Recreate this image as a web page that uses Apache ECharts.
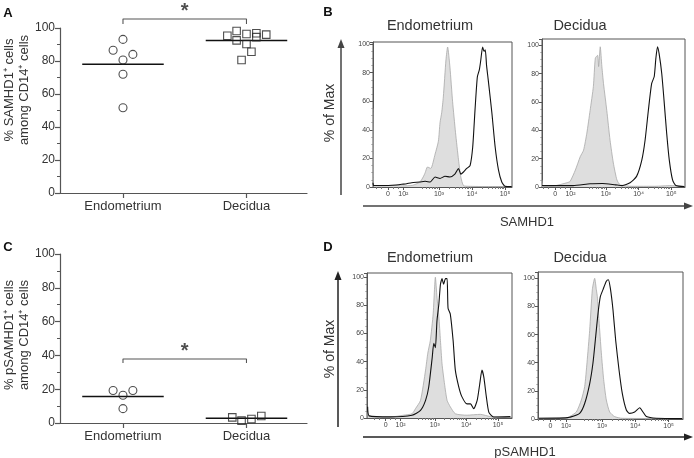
<!DOCTYPE html>
<html><head><meta charset="utf-8">
<script src="https://cdn.jsdelivr.net/npm/echarts@6/dist/echarts.min.js"></script>
<style>html,body{margin:0;padding:0;background:#fff}#c{width:694px;height:458px}</style>
</head><body><div id="c"></div>
<script>
const FONT = 'Liberation Sans, Arial, Helvetica, sans-serif';
const groups = ['Endometrium', 'Decidua'];

// ---- Panel A: % SAMHD1+ among CD14+ ----
const aEndoVals   = [93.1, 86.5, 84.0, 80.6, 72.0, 51.7];
const aEndoJitter = [0, -0.08, 0.08, 0, 0, 0];
const aDecVals    = [98.2, 95.3, 96.4, 96.8, 96.0, 92.5, 94.5, 90.3, 85.6, 80.6];
const aDecJitter  = [-0.08, -0.155, 0, 0.08, 0.16, -0.08, 0.08, 0, 0.04, -0.04];
const aMeans      = [78.0, 92.4];
const aSig        = [102.4, 105.5];

// ---- Panel C: % pSAMHD1+ among CD14+ ----
const cEndoVals   = [19.2, 16.4, 19.2, 8.5];
const cEndoJitter = [-0.08, 0, 0.08, 0];
const cDecVals    = [3.3, 1.4, 2.4, 4.1];
const cDecJitter  = [-0.115, -0.04, 0.04, 0.12];
const cMeans      = [15.7, 2.8];
const cSig        = [35.5, 37.9];

// ---- Flow histograms (x in display decades, y = % of max) ----
const flowTickVals = [1.45, 1.92, 3, 4, 5];
const flowTickText = ['0', '10²', '10³', '10⁴', '10⁵'];
const flowMinorTicks = [1.1, 1.25, 1.6, 1.75, 2.48, 2.6, 2.7, 2.78, 2.85, 2.9, 2.95,
  3.3, 3.48, 3.6, 3.7, 3.78, 3.85, 3.9, 3.95, 4.3, 4.48, 4.6, 4.7, 4.78, 4.85, 4.9, 4.95];
const flowYTicks = [0, 20, 40, 60, 80, 100];

const bEndoIso = [[1.00,55],[1.02,1],[1.3,0.8],[1.6,1.2],[1.9,0.8],[2.2,1.2],[2.42,3.5],[2.52,7],[2.58,10],[2.65,14],[2.75,13],[2.88,23],[2.98,32],[3.03,45],[3.08,52],[3.13,63],[3.21,89],[3.26,98],[3.33,84],[3.41,60],[3.50,38],[3.59,19],[3.66,7],[3.74,1],[3.9,0.5],[4.5,0.3],[5.2,0.3]];
const bEndoAb  = [[1.0,3],[1.02,1],[1.3,1],[1.6,1.2],[1.92,2],[2.02,2.3],[2.17,3],[2.42,3.5],[2.58,4],[2.73,3.5],[2.88,7],[3.03,6],[3.18,7.5],[3.33,7],[3.48,9],[3.59,13],[3.66,9],[3.74,10.5],[3.84,13],[3.94,15],[4.02,28],[4.09,54],[4.16,77],[4.22,82],[4.26,88],[4.32,98],[4.36,95],[4.40,96],[4.44,85],[4.49,75],[4.60,52],[4.70,28],[4.80,12],[4.90,3.5],[5.0,0.5],[5.2,0.3]];
const bDecIso  = [[1.05,5],[1.08,1],[1.4,0.8],[1.81,3],[1.91,4],[2.07,12],[2.22,21.5],[2.32,26],[2.42,38],[2.52,54],[2.62,71],[2.68,91],[2.75,93],[2.78,85],[2.83,99],[2.88,85],[2.93,73],[3.03,54],[3.13,33],[3.23,17],[3.34,5],[3.44,1.5],[3.8,0.5],[4.5,0.5],[5.0,1],[5.4,0.3]];
const bDecAb   = [[1.05,1],[1.5,1],[2.0,1],[2.52,2.3],[2.9,2.5],[3.3,1.5],[3.5,1],[3.74,3],[3.94,7.5],[4.10,19],[4.20,33],[4.30,54],[4.40,73],[4.48,78],[4.53,91],[4.58,99],[4.63,94],[4.71,80],[4.78,61],[4.86,38],[4.94,19],[5.04,5],[5.14,1],[5.4,0.3]];
const dEndoIso = [[0.88,4],[0.92,1],[1.6,0.7],[2.02,2],[2.28,3],[2.39,6.6],[2.55,12.5],[2.71,34],[2.78,46],[2.86,55],[2.95,74],[3.02,100],[3.07,86],[3.13,72],[3.18,55],[3.23,38.5],[3.31,24],[3.39,12.5],[3.49,8],[3.65,3],[4.02,2],[4.44,2.6],[4.76,1],[5.28,0.5]];
const dEndoAb  = [[0.88,8],[0.93,1.5],[1.6,0.8],[2.28,2],[2.55,5.4],[2.71,12.5],[2.81,22],[2.92,43],[2.97,53],[3.02,50],[3.07,69],[3.13,81],[3.18,95],[3.23,99],[3.28,95],[3.34,99],[3.39,99],[3.42,78],[3.49,74],[3.58,55],[3.65,34],[3.76,22],[3.86,15],[4.02,10],[4.13,10],[4.23,6.6],[4.34,12.5],[4.42,24],[4.49,34],[4.55,29],[4.63,15],[4.71,4],[4.86,0.7],[5.39,1]];
const dDecIso  = [[1.1,0.5],[1.9,0.5],[2.03,1.7],[2.23,5],[2.38,13.5],[2.48,23],[2.55,40],[2.63,63],[2.71,92],[2.78,100],[2.83,92],[2.86,87],[2.91,70],[2.98,47],[3.05,28],[3.13,13.5],[3.23,5],[3.38,1.7],[3.6,0.5],[5.4,0.3]];
const dDecAb   = [[1.1,0.5],[1.9,0.8],[2.03,1.2],[2.33,4],[2.48,11],[2.63,25],[2.73,40],[2.81,58.5],[2.88,75],[2.95,87],[3.03,92],[3.13,98],[3.19,99],[3.25,93],[3.33,77.5],[3.41,56],[3.51,35],[3.61,18],[3.73,6.4],[3.83,4],[3.98,5],[4.13,8],[4.23,5],[4.33,1.7],[4.63,0.5],[5.4,0.3]];

const histPanels = [
  {grid:{left:373, top:42, width:139, height:145}, xmin:1.00, xmax:5.21, ymax:101.5, iso:bEndoIso, ab:bEndoAb},
  {grid:{left:542, top:39, width:143, height:148}, xmin:1.05, xmax:5.42, ymax:104.5, iso:bDecIso,  ab:bDecAb},
  {grid:{left:367, top:273, width:145, height:145}, xmin:0.86, xmax:5.44, ymax:103, iso:dEndoIso, ab:dEndoAb},
  {grid:{left:538, top:272, width:145, height:147}, xmin:1.08, xmax:5.43, ymax:104.5, iso:dDecIso, ab:dDecAb}
];

const AX = '#555', TX = '#333';
const grids = [
  {left:60, top:28, width:247, height:165},
  {left:60, top:254, width:247, height:169}
];
histPanels.forEach(p => grids.push(Object.assign({show:true, borderColor:AX, borderWidth:1}, p.grid)));

const xAxes = [], yAxes = [], series = [];
[0,1].forEach(g => {
  xAxes.push({gridIndex:g, type:'value', min:0.49, max:2.49,
    axisLine:{lineStyle:{color:AX, width:1.2}},
    axisTick:{customValues:[1,2], length:5, lineStyle:{color:AX, width:1.2}},
    axisLabel:{customValues:[1,2], formatter:v => groups[Math.round(v)-1], fontSize:13, color:TX, fontFamily:FONT, margin:7},
    splitLine:{show:false}});
  yAxes.push({gridIndex:g, type:'value', min:0, max:100, interval:20,
    axisLine:{show:true, lineStyle:{color:AX, width:1.2}},
    axisTick:{show:true, length:5, lineStyle:{color:AX, width:1.2}},
    minorTick:{show:true, splitNumber:2, length:3, lineStyle:{color:AX}},
    axisLabel:{fontSize:12, color:TX, fontFamily:FONT, margin:5},
    splitLine:{show:false}});
});
histPanels.forEach((p, i) => {
  const g = i + 2;
  xAxes.push({gridIndex:g, type:'value', min:p.xmin, max:p.xmax,
    axisLine:{lineStyle:{color:AX, width:1}},
    axisTick:{customValues:flowTickVals, length:3, lineStyle:{color:AX}},
    axisLabel:{customValues:flowTickVals, formatter:v => flowTickText[flowTickVals.indexOf(v)] || '', fontSize:7, color:'#444', fontFamily:FONT, margin:4},
    splitLine:{show:false}});
  yAxes.push({gridIndex:g, type:'value', min:0, max:p.ymax, interval:20,
    axisLine:{show:true, lineStyle:{color:AX}},
    axisTick:{show:true, length:3, lineStyle:{color:AX}},
    minorTick:{show:true, splitNumber:4, length:1.5, lineStyle:{color:'#888'}},
    axisLabel:{customValues:flowYTicks, fontSize:7, color:'#444', fontFamily:FONT, margin:3},
    splitLine:{show:false}});
});
histPanels.forEach((p, i) => {
  xAxes.push({gridIndex:i+2, type:'value', min:p.xmin, max:p.xmax, position:'bottom',
    axisLine:{show:false}, axisLabel:{show:false},
    axisTick:{customValues:flowMinorTicks, length:2, lineStyle:{color:'#777'}},
    splitLine:{show:false}});
});

function dotPanel(idx, endoVals, endoJit, decVals, decJit, means, sig) {
  const sym = ['circle', 'rect'];
  [[endoVals, endoJit], [decVals, decJit]].forEach((pair, gi) => {
    series.push({type:'scatter', xAxisIndex:idx, yAxisIndex:idx, symbol:sym[gi], symbolSize: gi ? 7.5 : 8,
      clip:false, z:3,
      itemStyle:{color:'rgba(255,255,255,0)', borderColor:'#222', borderWidth:1.1},
      data: pair[0].map((v, k) => [gi + 1 + pair[1][k], v])});
    series.push({type:'line', xAxisIndex:idx, yAxisIndex:idx, symbol:'none', z:2,
      lineStyle:{color:'#111', width:1.6},
      data:[[gi + 1 - 0.33, means[gi]], [gi + 1 + 0.33, means[gi]]]});
  });
  series.push({type:'line', xAxisIndex:idx, yAxisIndex:idx, symbol:'none', clip:false,
    lineStyle:{color:'#555', width:1.1},
    data:[[1, sig[0]], [1, sig[1]], [2, sig[1]], [2, sig[0]]]});
  series.push({type:'scatter', xAxisIndex:idx, yAxisIndex:idx, symbolSize:0, clip:false,
    label:{show:true, position:'top', distance:-3, formatter:'*', fontSize:20, fontWeight:'bold', color:'#222', fontFamily:FONT},
    data:[[1.5, sig[1]]]});
}
dotPanel(0, aEndoVals, aEndoJitter, aDecVals, aDecJitter, aMeans, aSig);
dotPanel(1, cEndoVals, cEndoJitter, cDecVals, cDecJitter, cMeans, cSig);

histPanels.forEach((p, i) => {
  const g = i + 2;
  series.push({type:'line', xAxisIndex:g, yAxisIndex:g, symbol:'none', smooth:0.2, z:2,
    lineStyle:{color:'#a8a8a8', width:0.8}, areaStyle:{color:'#dedede', opacity:1}, data:p.iso});
  series.push({type:'line', xAxisIndex:g, yAxisIndex:g, symbol:'none', smooth:0.2, z:3,
    lineStyle:{color:'#111', width:1.1}, data:p.ab});
});

function txt(x, y, s, size, opts) {
  return Object.assign({type:'text', x:x, y:y, style:Object.assign({text:s, fontSize:size, fontFamily:FONT, fill:TX, align:'center', verticalAlign:'middle'}, opts||{})});
}
function vtxt(x, y, s, size) {
  return {type:'text', x:x, y:y, rotation:Math.PI/2, style:{text:s, fontSize:size, fontFamily:FONT, fill:TX, align:'center', verticalAlign:'middle'}};
}
function hArrow(y, x1, x2, col) {
  return [{type:'line', shape:{x1:x1, y1:y, x2:x2-6, y2:y}, style:{stroke:col, lineWidth:1.5}},
          {type:'polygon', shape:{points:[[x2,y],[x2-9,y-3.5],[x2-9,y+3.5]]}, style:{fill:col}}];
}
function vArrow(x, y1, y2, col) {
  return [{type:'line', shape:{x1:x, y1:y1, x2:x, y2:y2+6}, style:{stroke:col, lineWidth:1.5}},
          {type:'polygon', shape:{points:[[x,y2],[x-3.5,y2+9],[x+3.5,y2+9]]}, style:{fill:col}}];
}
const graphics = [
  txt(8, 13, 'A', 13, {fontWeight:'bold', fill:'#111'}),
  txt(328, 12, 'B', 13, {fontWeight:'bold', fill:'#111'}),
  txt(8, 247, 'C', 13, {fontWeight:'bold', fill:'#111'}),
  txt(328, 247, 'D', 13, {fontWeight:'bold', fill:'#111'}),
  vtxt(9, 90, '% SAMHD1⁺ cells', 13),
  vtxt(24, 90, 'among CD14⁺ cells', 13),
  vtxt(9, 335, '% pSAMHD1⁺ cells', 13),
  vtxt(24, 335, 'among CD14⁺ cells', 13),
  txt(430, 26, 'Endometrium', 14.5),
  txt(580, 26, 'Decidua', 14.5),
  txt(430, 258, 'Endometrium', 14.5),
  txt(580, 258, 'Decidua', 14.5),
  vtxt(330, 113, '% of Max', 14),
  vtxt(330, 349, '% of Max', 14),
  txt(527, 222, 'SAMHD1', 13),
  txt(525, 452, 'pSAMHD1', 13),
  ...vArrow(341, 195, 39, '#444'),
  ...vArrow(338, 427, 271, '#222'),
  ...hArrow(206, 363, 693, '#444'),
  ...hArrow(437, 363, 693, '#222')
];

const chart = echarts.init(document.getElementById('c'), null, {renderer:'canvas'});
chart.setOption({
  animation:false,
  backgroundColor:'#fff',
  grid:grids, xAxis:xAxes, yAxis:yAxes, series:series,
  graphic:{elements:graphics}
});
</script></body></html>
